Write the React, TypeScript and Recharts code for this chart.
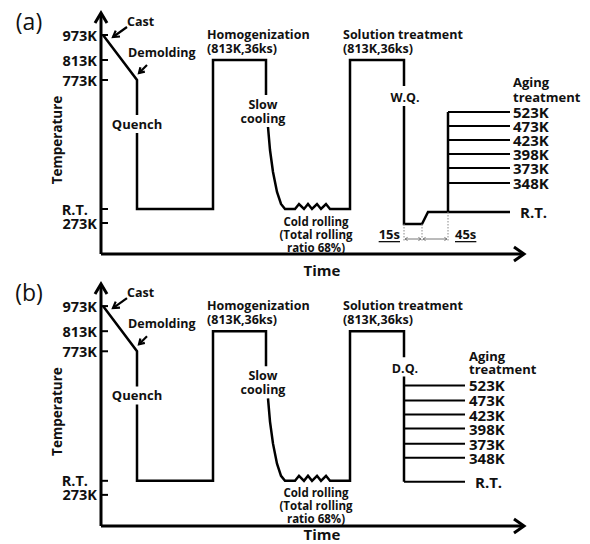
import React from 'react';
import { LineChart, Line, XAxis, YAxis, ReferenceDot, ReferenceLine } from 'recharts';

const FONT = '"Open Sans", "DejaVu Sans", sans-serif';
const INK = '#111';

// schematic temperature levels (0 = time axis), arbitrary units
const tempTicks = [219, 194, 174, 45, 31];
const tempTickLabels = ['973K', '813K', '773K', 'R.T.', '273K'];

// common route: cast -> demolding -> quench -> homogenization -> slow cooling -> cold rolling -> solution treatment
// null breaks the line where a label sits on it
const routeTime = [2, 36, 36, 36, 36, 36, 112, 112, 165, 165, 166, 167, 169, 172, 176, 180, 184, 194, 198, 203, 207, 211, 216, 220, 225, 229, 249, 249, 303];
const routeTemp = [219, 174, 139, null, 121, 45, 45, 194, 194, 159, null, 127, 104, 82, 62, 50, 45, 45, 50, 45, 50, 45, 50, 45, 50, 45, 45, 194, 194];

// (a) water quench, hold, back to R.T.
const quenchTimeA = [303, 303, 303, 303, 321, 327, 347, 409];
const quenchTempA = [168, null, 148, 30, 30, 42, 42, 42];
// (b) direct quench
const quenchTimeB = [303, 303, 303, 303];
const quenchTempB = [168, null, 149, 44];

const agingLabels = ['523K', '473K', '423K', '398K', '373K', '348K'];
const agingTempA = [142, 128, 114, 100, 86, 71];
const agingTempB = [140, 125, 111, 97, 82, 68];
const agingSpanA = [347, 409];
const agingSpanB = [303, 364];
const rtLevelA = 42;
const rtLevelB = 44;

const buildRoute = (times: number[], temps: (number | null)[]) =>
  times.map((t, i) => ({ t, v: temps[i] }));

const routeA = buildRoute(routeTime.concat(quenchTimeA), routeTemp.concat(quenchTempA));
const routeB = buildRoute(routeTime.concat(quenchTimeB), routeTemp.concat(quenchTempB));

const TempTick = (p: any) => {
  const label = tempTickLabels[tempTicks.indexOf(p.payload.value)];
  const isRT = label === 'R.T.';
  return (
    <g>
      <line x1={p.x + 4} x2={p.x + 11} y1={p.y} y2={p.y} stroke="#000" strokeWidth={2} />
      <text
        x={isRT ? p.x - 9 : p.x}
        y={p.y}
        textAnchor="end"
        dominantBaseline="central"
        fontFamily={FONT}
        fontSize={14.5}
        fontWeight={700}
        fill={INK}
      >
        {label}
      </text>
    </g>
  );
};

const note = (
  key: string,
  t: number,
  v: number,
  text: string,
  size = 12.5,
  anchor: 'start' | 'middle' | 'end' = 'start',
  opts: { weight?: number; rotate?: boolean; underline?: boolean } = {}
) => (
  <ReferenceDot
    key={key}
    x={t}
    y={v}
    r={0}
    ifOverflow="visible"
    shape={(p: any) => (
      <text
        x={p.cx}
        y={p.cy}
        textAnchor={anchor}
        dominantBaseline="central"
        fontFamily={FONT}
        fontSize={size}
        fontWeight={opts.weight ?? 700}
        fill={INK}
        textDecoration={opts.underline ? 'underline' : undefined}
        transform={opts.rotate ? `rotate(-90 ${p.cx} ${p.cy})` : undefined}
      >
        {text}
      </text>
    )}
  />
);

const arrowShape = (both: boolean, head: number, width: number, color: string) => (p: any) => {
  const { x1, y1, x2, y2 } = p;
  const a = Math.atan2(y2 - y1, x2 - x1);
  const wing = (x: number, y: number, dir: number) =>
    `M${x + head * Math.cos(dir + 0.55)},${y + head * Math.sin(dir + 0.55)} L${x},${y} L${x + head * Math.cos(dir - 0.55)},${y + head * Math.sin(dir - 0.55)}`;
  return (
    <g>
      <line x1={x1} y1={y1} x2={x2} y2={y2} stroke={color} strokeWidth={width} />
      <path d={wing(x2, y2, a + Math.PI)} stroke={color} strokeWidth={width} fill="none" />
      {both && <path d={wing(x1, y1, a)} stroke={color} strokeWidth={width} fill="none" />}
    </g>
  );
};

const chevron = (dir: 'up' | 'right') => (p: any) => {
  const { cx, cy } = p;
  const d =
    dir === 'up'
      ? `M${cx - 6},${cy + 9} L${cx},${cy - 1} L${cx + 6},${cy + 9}`
      : `M${cx - 9},${cy - 7} L${cx + 1},${cy} L${cx - 9},${cy + 7}`;
  return <path d={d} stroke="#000" strokeWidth={3} fill="none" />;
};

interface PanelProps {
  tag: string;
  height: number;
  axisBottom: number;
  route: { t: number; v: number | null }[];
  agingTemp: number[];
  agingSpan: number[];
  rtLevel: number;
  labelT: number;
  rtLabelT: number;
  headerV: number[];
  timeV: number;
  quenchLabel: string;
  water: boolean;
}

const Panel = ({ tag, height, axisBottom, route, agingTemp, agingSpan, rtLevel, labelT, rtLabelT, headerV, timeV, quenchLabel, water }: PanelProps) => (
  <LineChart width={590} height={height} margin={{ top: 14, right: 67, bottom: 0, left: 0 }} style={{ overflow: 'visible' }}>
    <XAxis
      type="number"
      dataKey="t"
      domain={[0, 422]}
      allowDataOverflow
      tick={false}
      tickLine={false}
      axisLine={{ stroke: '#000', strokeWidth: 3 }}
      height={height - axisBottom}
    />
    <YAxis
      type="number"
      domain={[0, 240]}
      allowDataOverflow
      ticks={tempTicks}
      interval={0}
      tick={TempTick}
      tickLine={false}
      tickSize={0}
      tickMargin={4}
      axisLine={{ stroke: '#000', strokeWidth: 3 }}
      width={101}
    />

    <Line data={route} dataKey="v" stroke="#000" strokeWidth={2.5} dot={false} activeDot={false} connectNulls={false} isAnimationActive={false} />
    {water && (
      <Line
        data={[{ t: agingSpan[0], v: rtLevel }, { t: agingSpan[0], v: agingTemp[0] }]}
        dataKey="v"
        stroke="#000"
        strokeWidth={2.5}
        dot={false}
        activeDot={false}
        isAnimationActive={false}
      />
    )}
    {agingTemp.concat(water ? [] : [rtLevel]).map((v, i) => (
      <Line
        key={`age-${i}`}
        data={[{ t: agingSpan[0], v }, { t: agingSpan[1], v }]}
        dataKey="v"
        stroke="#000"
        strokeWidth={2}
        dot={false}
        activeDot={false}
        isAnimationActive={false}
      />
    ))}

    <ReferenceDot x={0} y={240} r={0} ifOverflow="visible" shape={chevron('up')} />
    <ReferenceDot x={422} y={0} r={0} ifOverflow="visible" shape={chevron('right')} />

    <ReferenceLine segment={[{ x: 26, y: 227 }, { x: 12, y: 217 }]} ifOverflow="visible" shape={arrowShape(false, 7, 2.2, '#000')} />
    <ReferenceLine segment={[{ x: 46, y: 189 }, { x: 38, y: 181 }]} ifOverflow="visible" shape={arrowShape(false, 6, 2.2, '#000')} />

    {water && [
      <ReferenceLine key="d1" segment={[{ x: 303, y: 30 }, { x: 303, y: 12 }]} ifOverflow="visible" stroke="#888" strokeWidth={1} strokeDasharray="1.5 1.5" />,
      <ReferenceLine key="d2" segment={[{ x: 321, y: 30 }, { x: 321, y: 12 }]} ifOverflow="visible" stroke="#888" strokeWidth={1} strokeDasharray="1.5 1.5" />,
      <ReferenceLine key="d3" segment={[{ x: 347, y: 42 }, { x: 347, y: 12 }]} ifOverflow="visible" stroke="#888" strokeWidth={1} strokeDasharray="1.5 1.5" />,
      <ReferenceLine key="a1" segment={[{ x: 304, y: 15 }, { x: 320, y: 15 }]} ifOverflow="visible" shape={arrowShape(true, 3, 1, '#777')} />,
      <ReferenceLine key="a2" segment={[{ x: 322, y: 15 }, { x: 346, y: 15 }]} ifOverflow="visible" shape={arrowShape(true, 3, 1, '#777')} />,
      note('15s', 299, 20, '15s', 13, 'end', { underline: true }),
      note('45s', 354, 20, '45s', 13, 'start', { underline: true }),
    ]}

    {note('tag', -72, 233, tag, 23, 'middle', { weight: 400 })}
    {note('temp', -44, 114, 'Temperature', 13.5, 'middle', { rotate: true })}
    {note('time', 221, timeV, 'Time', 15, 'middle')}
    {note('cast', 26, 233, 'Cast', 12.5)}
    {note('demold', 27, 202, 'Demolding', 12.5)}
    {note('quench', 36, 130, 'Quench', 13, 'middle')}
    {note('homo1', 106, 220, 'Homogenization', 12.5)}
    {note('homo2', 106, 206, '(813K,36ks)', 12.5)}
    {note('sol1', 242, 220, 'Solution treatment', 12.5)}
    {note('sol2', 242, 206, '(813K,36ks)', 12.5)}
    {note('slow1', 162, 150, 'Slow', 12.5, 'middle')}
    {note('slow2', 162, 136, 'cooling', 12.5, 'middle')}
    {note('cold1', 215, 33, 'Cold rolling', 11.5, 'middle')}
    {note('cold2', 215, 20, '(Total rolling', 11.5, 'middle')}
    {note('cold3', 215, 7, 'ratio 68%)', 11.5, 'middle')}
    {note('wq', 304, 157, quenchLabel, 12.5, 'middle')}
    {note('age1', labelT, headerV[0], 'Aging', 13)}
    {note('age2', labelT, headerV[1], 'treatment', 13)}
    {agingTemp.map((v, i) => note(`lab-${i}`, labelT, v, agingLabels[i], 15))}
    {note('rt', rtLabelT, rtLevel, 'R.T.', 15)}
  </LineChart>
);

export default function App() {
  return (
    <div style={{ position: 'absolute', left: 0, top: 0, width: 590, height: 544, background: '#fff', overflow: 'hidden' }}>
      <div style={{ position: 'absolute', left: 0, top: 0 }}>
        <Panel
          tag="(a)"
          height={282}
          axisBottom={254}
          route={routeA}
          agingTemp={agingTempA}
          agingSpan={agingSpanA}
          rtLevel={rtLevelA}
          labelT={412}
          rtLabelT={419}
          headerV={[172, 157]}
          timeV={-16}
          quenchLabel="W.Q."
          water
        />
      </div>
      <div style={{ position: 'absolute', left: 0, top: 271 }}>
        <Panel
          tag="(b)"
          height={276}
          axisBottom={255}
          route={routeB}
          agingTemp={agingTempB}
          agingSpan={agingSpanB}
          rtLevel={rtLevelB}
          labelT={368}
          rtLabelT={374}
          headerV={[169, 156]}
          timeV={-8}
          quenchLabel="D.Q."
          water={false}
        />
      </div>
    </div>
  );
}
